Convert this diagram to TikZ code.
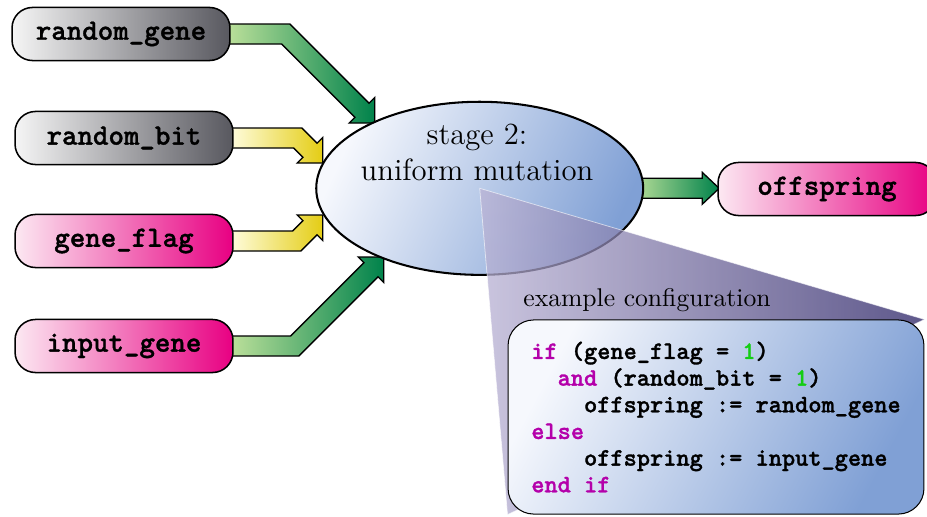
\documentclass[tikz,border=0pt]{standalone}
\usepackage{fontspec}
\usetikzlibrary{shapes.geometric}
\newfontfamily\codefont{lmmonolt10-bold}[Extension=.otf,FakeBold=1.2]
\pgfdeclarelayer{background}
\pgfdeclarelayer{foreground}
\pgfsetlayers{background,main,foreground}
\definecolor{graylt}{RGB}{245,245,245}
\definecolor{graydk}{RGB}{88,88,95}
\definecolor{pinklt}{RGB}{252,232,242}
\definecolor{pinkdk}{RGB}{232,0,130}
\definecolor{yellowlt}{RGB}{255,253,225}
\definecolor{yellowdk}{RGB}{228,205,20}
\definecolor{greenlt}{RGB}{190,225,155}
\definecolor{greendk}{RGB}{0,130,75}
\definecolor{bluelt}{RGB}{246,248,253}
\definecolor{bluedk}{RGB}{128,160,213}
\definecolor{pointlt}{RGB}{185,178,212}
\definecolor{pointdk}{RGB}{40,32,100}
\definecolor{kwcol}{RGB}{180,0,170}
\definecolor{numcol}{RGB}{20,205,20}
\newcommand\codekw[1]{\textcolor{kwcol}{#1}}
\newcommand\codenum[1]{\textcolor{numcol}{#1}}
\newcommand\bentarrow[5]{%
  \path[#1,shift={(#2.east)}] (-5,{-(#5)*10}) -- ({#3+4.14},{-(#5)*10})
    -- ({#3+#4-5.66},{(#5)*(#4-19.8)}) -- ({#3+#4},{(#5)*(#4-25.46)})
    -- ({#3+#4},{(#5)*(#4)}) -- ({#3+#4-25.46},{(#5)*(#4)})
    -- ({#3+#4-19.8},{(#5)*(#4-5.66)}) -- ({#3-4.14},{(#5)*10})
    -- (-5,{(#5)*10}) -- cycle;}
\begin{document}
\begin{tikzpicture}[x=.39pt,y=-.39pt,line width=.6pt,
  every node/.style={inner sep=1pt},
  varbox/.style={draw,rounded corners=8pt,minimum width=85pt,minimum height=20.7pt,
    font=\codefont\fontsize{11.5}{14}\selectfont},
  graybox/.style={varbox,left color=graylt,right color=graydk},
  pinkbox/.style={varbox,left color=pinklt,right color=pinkdk},
  greenarr/.style={draw,line width=.5pt,left color=greenlt,right color=greendk},
  yellowarr/.style={draw,line width=.5pt,left color=yellowlt,right color=yellowdk},
  pointer/.style={left color=pointlt,right color=pointdk,fill opacity=.75,
    draw=white,draw opacity=.6,line width=.3pt},
  codebox/.style={draw,rounded corners=10pt,minimum width=162.2pt,minimum height=75.7pt,
    align=left,top color=bluelt,bottom color=bluedk,shading angle=62,
    font=\codefont\fontsize{9.8}{10.4}\selectfont}]
  \path[use as bounding box] (0,0) rectangle (927,516);
  \node[graybox] (rg) at (121,34) {random\_gene};
  \node[graybox] (rb) at (124,138) {random\_bit};
  \node[pinkbox] (gf) at (124,241) {gene\_flag};
  \node[pinkbox] (ig) at (124,346) {input\_gene};
  \node[pinkbox] (off) at (827,189) {offspring};
  \node[ellipse,draw,line width=.8pt,minimum width=127.5pt,minimum height=67.5pt,
    top color=bluelt,bottom color=bluedk,shading angle=65] (mut) at (479.7,188.3) {};
  \node[font=\large,align=center] (mutlbl) at (477,152) {stage 2:\\uniform mutation};
  \begin{pgfonlayer}{foreground}
    \node[codebox] (conf) at (716,417) {\codekw{if} (gene\_flag = \codenum{1})\\
      \phantom{xx}\codekw{and} (random\_bit = \codenum{1})\\
      \phantom{xxxx}offspring := random\_gene\\
      \codekw{else}\\
      \phantom{xxxx}offspring := input\_gene\\
      \codekw{end if}};
  \end{pgfonlayer}
  \path[pointer] (mut.center) -- (conf.north east) -- (conf.south west) -- cycle;
  \node (conflbl) at (647,300) {example configuration};
  \begin{pgfonlayer}{background}
    \bentarrow{greenarr}{rg}{55}{89}{1}
    \bentarrow{yellowarr}{rb}{64}{25}{1}
    \bentarrow{yellowarr}{gf}{63}{26}{-1}
    \bentarrow{greenarr}{ig}{61}{89}{-1}
    \path[greenarr,shift={(mut.east)}] (-13,-10) -- (58,-10) -- (58,-16) -- (75,0)
      -- (58,16) -- (58,10) -- (-13,10) -- cycle;
  \end{pgfonlayer}
\end{tikzpicture}
\end{document}
